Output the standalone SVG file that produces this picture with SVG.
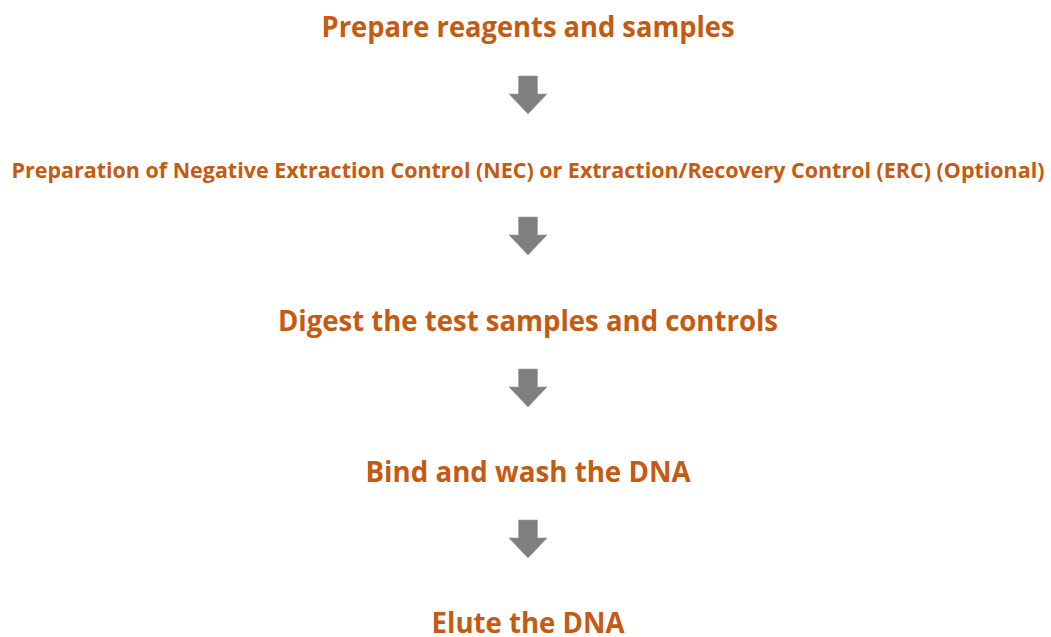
<svg xmlns="http://www.w3.org/2000/svg" width="1051" height="637" viewBox="0 0 1051 637">
<style>
.t{font-family:"Open Sans","Noto Sans","Liberation Sans",sans-serif;font-weight:700;fill:#C55A11;text-anchor:middle}
.big{font-size:29px}
.small{font-size:20.5px}
.arr{fill:#7F7F7F;stroke:#9A9A9A;stroke-width:0.6}
</style>
<defs>
<path id="down" class="arr" d="M-9.5,0 H9.5 V18 H19 L0,38 L-19,18 H-9.5 Z"/>
</defs>
<rect width="1051" height="637" fill="#FFFFFF"/>
<g id="step1"><text class="t big" x="528" y="37" textLength="413" lengthAdjust="spacingAndGlyphs">Prepare reagents and samples</text></g>
<g id="step2"><text class="t small" x="528" y="178" textLength="1033" lengthAdjust="spacingAndGlyphs">Preparation of Negative Extraction Control (NEC) or Extraction/Recovery Control (ERC) (Optional)</text></g>
<g id="step3"><text class="t big" x="528" y="331" textLength="500" lengthAdjust="spacingAndGlyphs">Digest the test samples and controls</text></g>
<g id="step4"><text class="t big" x="528" y="482" textLength="325" lengthAdjust="spacingAndGlyphs">Bind and wash the DNA</text></g>
<g id="step5"><text class="t big" x="528" y="633" textLength="193" lengthAdjust="spacingAndGlyphs">Elute the DNA</text></g>
<g id="connectors">
<use href="#down" x="528" y="76"/>
<use href="#down" x="528" y="217"/>
<use href="#down" x="528" y="369"/>
<use href="#down" x="528" y="520"/>
</g>
</svg>
